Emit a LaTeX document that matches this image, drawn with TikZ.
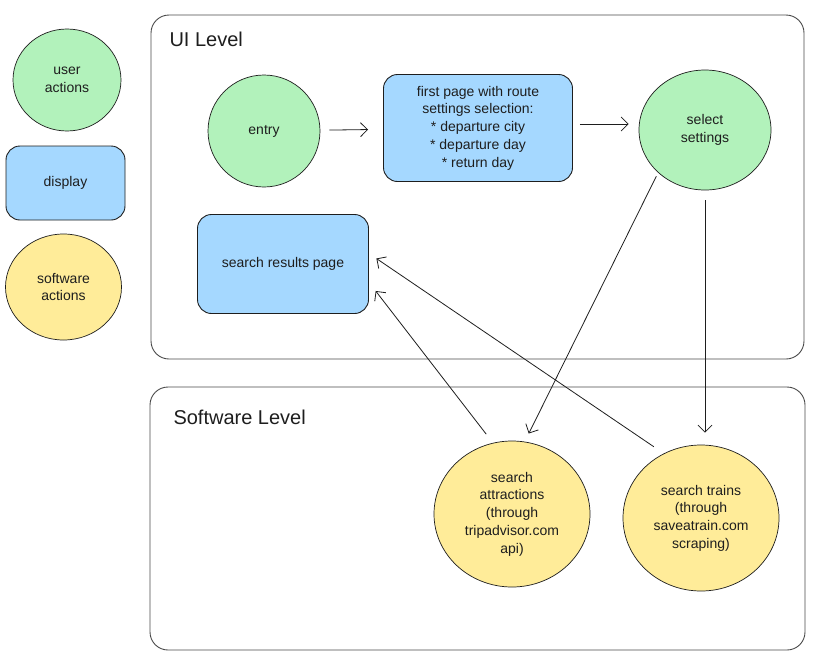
\documentclass[tikz,border=0pt]{standalone}
\usepackage{fontspec}
\setmainfont{Liberation Sans}
\usetikzlibrary{shapes.geometric,arrows.meta}
\definecolor{uagreen}{HTML}{B2F2BB}
\definecolor{dispblue}{HTML}{A5D8FF}
\definecolor{swyellow}{HTML}{FFEC99}
\definecolor{ink}{HTML}{1E1E1E}
\tikzset{
  txt/.style={font=\fontsize{14}{17.7}\selectfont, text=ink, align=center},
  useract/.style={ellipse, draw=ink, line width=0.7pt, fill=uagreen, inner sep=0pt, txt},
  swact/.style={ellipse, draw=ink, line width=0.7pt, fill=swyellow, inner sep=0pt, txt},
  dispbox/.style={rectangle, rounded corners=14pt, draw=ink, line width=0.9pt, fill=dispblue, inner sep=0pt, txt},
  container/.style={draw=ink!80, line width=0.9pt, rounded corners=18pt},
  title/.style={font=\fontsize{20}{23}\selectfont, text=ink, anchor=west},
  conn/.style={draw=ink, line width=0.8pt, -{Straight Barb[length=7pt,width=14pt]}},
}
\begin{document}
\begin{tikzpicture}[x=1pt,y=-1pt]
\useasboundingbox[fill=white] (0,0) rectangle (816,659);
% containers
\draw[container] (151,15) rectangle (804,359);
\draw[container] (150,387) rectangle (805,650);
\node[title] (uilevel) at (166,39) {UI Level};
\node[title] (swlevel) at (170,417) {Software Level};
% legend
\node[useract, minimum width=108pt, minimum height=102pt] (leguser) at (67,80) {user\\actions};
\node[dispbox, minimum width=119pt, minimum height=74pt] (legdisp) at (65.5,183) {display};
\node[swact, minimum width=116pt, minimum height=106pt] (legsw) at (63.5,287) {software\\actions};
% UI level
\node[useract, minimum width=112pt, minimum height=112pt] (entry) at (264,131) {entry};
\node[dispbox, minimum width=189pt, minimum height=107pt] (first) at (478,128) {first page with route\\settings selection:\\* departure city\\* departure day\\* return day};
\node[useract, minimum width=132pt, minimum height=120pt] (select) at (705,130) {select\\settings};
\node[dispbox, minimum width=171pt, minimum height=99pt] (results) at (283,264) {search results page};
% software level
\node[swact, minimum width=156pt, minimum height=146pt] (attr) at (512,514) {search\\attractions\\(through\\tripadvisor.com\\api)};
\node[swact, minimum width=156pt, minimum height=146pt] (trains) at (701,518) {search trains\\(through\\saveatrain.com\\scraping)};
% connectors
\draw[conn, shorten <=9pt, shorten >=15pt] (entry) -- (first);
\draw[conn, shorten <=7pt, shorten >=10pt] (first.east |- 0,124) -- (select.west |- 0,124);
\draw[conn, shorten <=4pt, shorten >=9pt] (select.south west) -- (attr.80);
\draw[conn, shorten <=10pt, shorten >=12pt] (select.south) -- (select.south |- trains.north);
\draw[conn, shorten <=11pt, shorten >=11pt] (attr.105) -- (results.-12);
\draw[conn, shorten <=12pt, shorten >=9pt] (trains.120) -- (results.7);
\end{tikzpicture}
\end{document}
